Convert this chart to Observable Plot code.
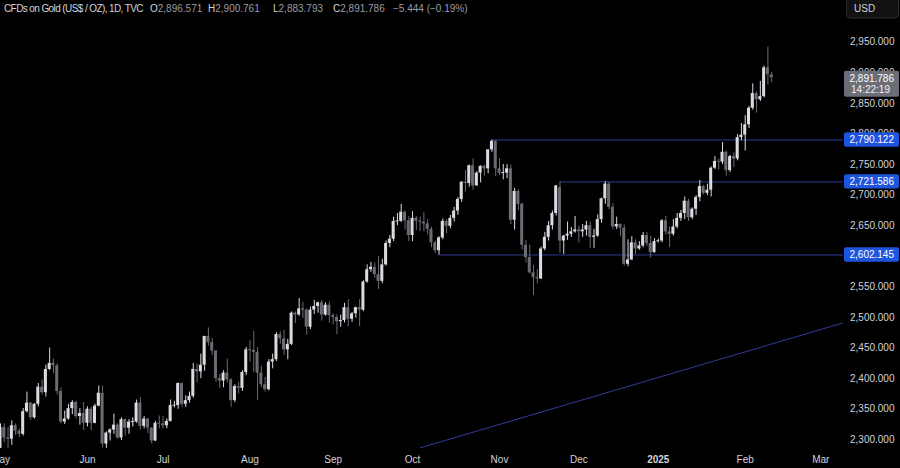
<!DOCTYPE html>
<html>
<head>
<meta charset="utf-8">
<script src="https://cdn.jsdelivr.net/npm/d3@7"></script>
<script src="https://cdn.jsdelivr.net/npm/@observablehq/plot@0.6"></script>
<style>
html,body{margin:0;padding:0;background:#000;overflow:hidden;}
#chart{width:900px;height:468px;background:#000;}
</style>
</head>
<body>
<div id="chart"></div>
<script>
// ---------- DATA ----------
const title = "CFDs on Gold (US$ / OZ), 1D, TVC";
const currency = "USD";
const countdown = "14:22:19";

const dates = [
"2024-05-01","2024-05-02","2024-05-03","2024-05-06","2024-05-07","2024-05-08","2024-05-09","2024-05-10","2024-05-13","2024-05-14","2024-05-15","2024-05-16","2024-05-17","2024-05-20","2024-05-21","2024-05-22","2024-05-23","2024-05-24","2024-05-27","2024-05-28","2024-05-29","2024-05-30","2024-05-31",
"2024-06-03","2024-06-04","2024-06-05","2024-06-06","2024-06-07","2024-06-10","2024-06-11","2024-06-12","2024-06-13","2024-06-14","2024-06-17","2024-06-18","2024-06-19","2024-06-20","2024-06-21","2024-06-24","2024-06-25","2024-06-26","2024-06-27","2024-06-28",
"2024-07-01","2024-07-02","2024-07-03","2024-07-04","2024-07-05","2024-07-08","2024-07-09","2024-07-10","2024-07-11","2024-07-12","2024-07-15","2024-07-16","2024-07-17","2024-07-18","2024-07-19","2024-07-22","2024-07-23","2024-07-24","2024-07-25","2024-07-26","2024-07-29","2024-07-30","2024-07-31",
"2024-08-01","2024-08-02","2024-08-05","2024-08-06","2024-08-07","2024-08-08","2024-08-09","2024-08-12","2024-08-13","2024-08-14","2024-08-15","2024-08-16","2024-08-19","2024-08-20","2024-08-21","2024-08-22","2024-08-23","2024-08-26","2024-08-27","2024-08-28","2024-08-29","2024-08-30",
"2024-09-02","2024-09-03","2024-09-04","2024-09-05","2024-09-06","2024-09-09","2024-09-10","2024-09-11","2024-09-12","2024-09-13","2024-09-16","2024-09-17","2024-09-18","2024-09-19","2024-09-20","2024-09-23","2024-09-24","2024-09-25","2024-09-26","2024-09-27","2024-09-30",
"2024-10-01","2024-10-02","2024-10-03","2024-10-04","2024-10-07","2024-10-08","2024-10-09","2024-10-10","2024-10-11","2024-10-14","2024-10-15","2024-10-16","2024-10-17","2024-10-18","2024-10-21","2024-10-22","2024-10-23","2024-10-24","2024-10-25","2024-10-28","2024-10-29","2024-10-30","2024-10-31",
"2024-11-01","2024-11-04","2024-11-05","2024-11-06","2024-11-07","2024-11-08","2024-11-11","2024-11-12","2024-11-13","2024-11-14","2024-11-15","2024-11-18","2024-11-19","2024-11-20","2024-11-21","2024-11-22","2024-11-25","2024-11-26","2024-11-27","2024-11-28","2024-11-29",
"2024-12-02","2024-12-03","2024-12-04","2024-12-05","2024-12-06","2024-12-09","2024-12-10","2024-12-11","2024-12-12","2024-12-13","2024-12-16","2024-12-17","2024-12-18","2024-12-19","2024-12-20","2024-12-23","2024-12-24","2024-12-26","2024-12-27","2024-12-30","2024-12-31",
"2025-01-01","2025-01-02","2025-01-03","2025-01-06","2025-01-07","2025-01-08","2025-01-09","2025-01-10","2025-01-13","2025-01-14","2025-01-15","2025-01-16","2025-01-17","2025-01-20","2025-01-21","2025-01-22","2025-01-23","2025-01-24","2025-01-27","2025-01-28","2025-01-29","2025-01-30","2025-01-31",
"2025-02-03","2025-02-04","2025-02-05","2025-02-06","2025-02-07","2025-02-10","2025-02-11","2025-02-12"
];

const open = [
2286,2320,2303,2301,2323,2314,2309,2346,2360,2336,2358,2386,2377,2415,2425,2421,2379,2329,2334,2351,2361,2338,2343,
2327,2350,2327,2355,2376,2293,2311,2316,2324,2303,2333,2319,2329,2329,2360,2322,2334,2319,2298,2327,
2326,2323,2330,2356,2356,2392,2358,2364,2371,2415,2411,2422,2469,2459,2445,2400,2396,2409,2398,2364,2387,2384,2410,
2447,2446,2443,2409,2390,2382,2427,2431,2472,2465,2447,2456,2507,2504,2514,2512,2484,2512,2518,2524,2504,2520,
2503,2500,2493,2495,2516,2497,2506,2516,2512,2558,2578,2582,2570,2559,2586,2621,2628,2657,2657,2672,2658,
2634,2662,2657,2656,2653,2644,2622,2609,2630,2657,2649,2662,2674,2693,2721,2719,2748,2715,2736,2747,2743,2774,2788,
2743,2736,2736,2743,2659,2706,2685,2618,2598,2573,2565,2563,2612,2631,2650,2670,2712,2625,2633,2636,2640,
2643,2640,2643,2650,2631,2633,2660,2694,2718,2680,2648,2652,2646,2587,2594,2622,2612,2617,2634,2621,2606,
2624,2625,2658,2640,2636,2648,2662,2670,2690,2663,2677,2696,2714,2703,2708,2744,2755,2754,2770,2740,2763,2759,2794,
2798,2815,2842,2866,2856,2861,2908,2896.571
];
const high = [
2326,2326,2320,2331,2326,2318,2351,2378,2361,2359,2392,2398,2422,2450,2432,2424,2385,2347,2358,2364,2363,2351,2361,
2354,2353,2358,2388,2388,2313,2318,2342,2326,2336,2334,2333,2336,2365,2369,2338,2335,2320,2330,2339,
2338,2334,2365,2363,2393,2393,2372,2378,2425,2424,2440,2469,2483,2466,2446,2407,2413,2432,2400,2390,2394,2413,2451,
2462,2477,2451,2420,2402,2431,2440,2475,2477,2479,2464,2509,2509,2531,2525,2514,2517,2528,2525,2528,2524,2525,
2506,2504,2504,2523,2529,2508,2517,2529,2560,2586,2590,2589,2600,2595,2625,2634,2664,2670,2685,2674,2665,
2673,2665,2664,2671,2660,2648,2625,2632,2661,2660,2667,2680,2696,2722,2740,2749,2759,2738,2748,2749,2774,2790.1,2789,
2760,2750,2750,2749,2711,2709,2687,2626,2618,2585,2578,2615,2639,2657,2674,2716,2721.6,2634,2656,2647,2665,
2649,2652,2657,2656,2644,2668,2695,2722,2721,2686,2664,2653,2651,2627,2632,2627,2624,2639,2639,2633,2629,
2628,2660,2665,2648,2660,2670,2675,2697,2693,2679,2699,2724,2716,2718,2746,2763,2759,2786,2772,2765,2769,2799,2817,
2830,2845,2882,2869,2886,2911,2942,2900.761
];
const low = [
2285,2295,2277,2291,2307,2303,2306,2344,2332,2334,2354,2373,2370,2413,2408,2373,2326,2325,2332,2341,2334,2324,2315,
2321,2315,2326,2354,2287,2286,2298,2309,2301,2299,2306,2309,2321,2327,2316,2318,2310,2293,2297,2318,
2318,2318,2329,2352,2350,2353,2353,2360,2368,2393,2400,2412,2453,2438,2394,2384,2385,2393,2353,2361,2375,2379,2405,
2427,2410,2364,2385,2378,2380,2416,2428,2456,2438,2431,2454,2490,2502,2498,2471,2480,2505,2507,2494,2502,2491,
2488,2472,2484,2491,2485,2492,2499,2485,2510,2556,2574,2564,2546,2555,2584,2614,2624,2650,2655,2643,2624,
2624,2642,2640,2640,2635,2614,2605,2602.1,2627,2637,2645,2656,2667,2688,2705,2713,2708,2715,2720,2731,2735,2770,2730,
2732,2725,2727,2652,2643,2675,2610,2589,2571,2536,2555,2562,2609,2625,2643,2666,2605,2603,2626,2631,2638,
2622,2631,2633,2613,2613,2631,2654,2685,2676,2643,2644,2632,2584,2583,2593,2603,2610,2614,2616,2597,2605,
2622,2622,2635,2614,2633,2645,2657,2660,2657,2660,2667,2689,2700,2699,2697,2742,2741,2750,2731,2737,2745,2756,2789,
2772,2809,2839,2834,2853,2859,2880,2883.793
];
const close = [
2320,2303,2301,2323,2314,2309,2346,2360,2336,2358,2386,2377,2415,2425,2421,2379,2329,2334,2351,2361,2338,2343,2327,
2350,2327,2355,2376,2293,2311,2316,2324,2303,2333,2319,2329,2329,2360,2322,2334,2319,2298,2327,2326,
2323,2330,2356,2356,2392,2358,2364,2371,2415,2411,2422,2469,2459,2445,2400,2396,2409,2398,2364,2387,2384,2410,2447,
2446,2443,2409,2390,2382,2427,2431,2472,2465,2447,2456,2507,2504,2514,2512,2484,2512,2518,2524,2504,2520,2503,
2500,2493,2495,2516,2497,2506,2516,2512,2558,2578,2582,2570,2559,2586,2621,2628,2657,2657,2672,2658,2634,
2662,2657,2656,2653,2644,2622,2609,2630,2657,2649,2662,2674,2693,2721,2719,2748,2715,2736,2747,2743,2774,2788,2743,
2736,2736,2743,2659,2706,2685,2618,2598,2573,2565,2563,2612,2631,2650,2670,2715,2625,2633,2636,2640,2643,
2640,2643,2650,2631,2633,2660,2694,2718,2680,2648,2652,2646,2587,2594,2622,2612,2617,2634,2621,2606,2624,
2625,2658,2640,2636,2648,2662,2670,2690,2663,2677,2696,2714,2703,2708,2744,2755,2754,2770,2740,2763,2759,2794,2798,
2815,2842,2866,2856,2861,2908,2897,2891.786
];

// horizontal levels (price, anchor date of the ray)
const levelPrices = [2790.122, 2721.586, 2602.145];
const levelStartDates = ["2024-10-30", "2024-11-25", "2024-10-10"];

// trend line anchor points (bar position, price)
const trendBars = [111.1, 223];
const trendPrices = [2287, 2491.3];

// axis ticks
const yTicks = [2300,2350,2400,2450,2500,2550,2600,2650,2700,2750,2800,2850,2900,2950];
const monthTickDates = ["2024-05-01","2024-06-03","2024-07-01","2024-08-01","2024-09-02","2024-10-01","2024-11-01","2024-12-02","2025-01-01","2025-02-03","2025-03-03"];
const monthTickLabels = ["May","Jun","Jul","Aug","Sep","Oct","Nov","Dec","2025","Feb","Mar"];

// header values
const lastOpen = 2896.571, lastHigh = 2900.761, lastLow = 2883.793, lastClose = 2891.786;
const changeText = "\u22125.444 (\u22120.19%)";

// ---------- CHART ----------
const UP = "#d9dbe0", DN = "#6a6c74";
const LEVEL = "#2f3b94", TREND = "#2f3a98", LABELBG = "#1f55de";
const TEXT = "#d1d4dc", DIM = "#9a9ca4";
const FONT = "'Liberation Sans', Arial, sans-serif";
const X_MAX = 223;
const fmt = d3.format(",.3f");

function barIndex(d) {
  const k = dates.indexOf(d);
  if (k >= 0) return k;
  let n = dates.length - 1;
  let t = new Date(dates[n] + "T00:00:00Z");
  const end = new Date(d + "T00:00:00Z");
  while (t < end) {
    t = new Date(t.getTime() + 864e5);
    const wd = t.getUTCDay();
    if (wd !== 0 && wd !== 6) n++;
  }
  return n;
}

const bars = dates.map((d, i) => {
  const o = open[i], c = close[i];
  let lo = Math.min(o, c), hi = Math.max(o, c);
  if (hi - lo < 1.5) { const m = (hi + lo) / 2; lo = m - 0.8; hi = m + 0.8; }
  return {i, h: high[i], l: low[i], lo, hi, col: c >= o ? UP : DN};
});
const monthIdx = monthTickDates.map(barIndex);
const trend = trendBars.map((b, k) => ({b, p: trendPrices[k]}));

const chart = Plot.plot({
  width: 900, height: 468,
  marginLeft: 0, marginRight: 57, marginTop: 0, marginBottom: 20,
  style: {background: "#000", color: TEXT, fontFamily: FONT, fontSize: "10px"},
  x: {type: "linear", domain: [0, X_MAX], range: [0, 843], axis: null},
  y: {type: "linear", domain: [2300, 2950], range: [439.3, 41.7], axis: null},
  color: {type: "identity"},
  marks: [
    Plot.ruleY(levelPrices, {y: d => d, x1: (d, k) => barIndex(levelStartDates[k]), x2: X_MAX, stroke: LEVEL, strokeWidth: 1, clip: true}),
    Plot.line(trend, {x: "b", y: "p", stroke: TREND, strokeWidth: 1, clip: true}),
    Plot.ruleX(bars, {x: "i", y1: "l", y2: "h", stroke: "col", strokeWidth: 1, clip: true}),
    Plot.rect(bars, {x1: d => d.i - 0.4, x2: d => d.i + 0.4, y1: "lo", y2: "hi", fill: "col", clip: true}),
    Plot.axisX({anchor: "bottom", ticks: monthIdx, tickFormat: d => monthTickLabels[monthIdx.indexOf(d)], tickSize: 0, tickPadding: 7, fill: TEXT}),
    Plot.axisY({anchor: "right", ticks: yTicks, tickFormat: fmt, tickSize: 0, tickPadding: 51, textAnchor: "end", fill: TEXT})
  ]
});
document.getElementById("chart").appendChild(chart);

// ---------- OVERLAYS (price labels, header) ----------
const svg = d3.select(chart);
svg.selectAll("text").filter(function(){ return this.textContent === "2025"; }).attr("font-weight", "bold");
const ys = chart.scale("y");
const g = svg.append("g").attr("font-family", FONT).attr("font-size", 10).attr("text-anchor", "start");

levelPrices.forEach(v => {
  const y = ys.apply(v);
  g.append("rect").attr("x", 844).attr("y", y - 7.2).attr("width", 55).attr("height", 14.4).attr("rx", 2).attr("fill", LABELBG);
  g.append("text").attr("x", 894).attr("y", y).attr("dy", "0.35em").attr("text-anchor", "end").attr("fill", "#ffffff").text(fmt(v));
});

{
  const y = ys.apply(lastClose);
  g.append("rect").attr("x", 844).attr("y", y - 6.5).attr("width", 55).attr("height", 26).attr("rx", 2).attr("fill", "#6b6e76");
  g.append("text").attr("x", 894).attr("y", y + 1.5).attr("dy", "0.35em").attr("text-anchor", "end").attr("fill", "#ffffff").text(fmt(lastClose));
  g.append("text").attr("x", 890).attr("y", y + 12).attr("dy", "0.35em").attr("text-anchor", "end").attr("fill", "#f0f0f0").text(countdown);
}

// currency box
g.append("rect").attr("x", 846.5).attr("y", -3).attr("width", 52).attr("height", 21).attr("rx", 4).attr("fill", "#121212").attr("stroke", "#2c2c2e");
g.append("text").attr("x", 854).attr("y", 8).attr("dy", "0.35em").attr("fill", TEXT).text(currency);

// header line
const hy = 8;
g.append("text").attr("x", 4).attr("y", hy).attr("dy", "0.35em").attr("fill", TEXT).attr("letter-spacing", "-0.6").text(title);
const parts = [["O", lastOpen, 150], ["H", lastHigh, 208], ["L", lastLow, 273], ["C", lastClose, 333]];
parts.forEach(([k, v, x]) => {
  const t = g.append("text").attr("x", x).attr("y", hy).attr("dy", "0.35em");
  t.append("tspan").attr("fill", TEXT).text(k);
  t.append("tspan").attr("fill", DIM).text(fmt(v));
});
g.append("text").attr("x", 393).attr("y", hy).attr("dy", "0.35em").attr("fill", DIM).text(changeText);
</script>
</body>
</html>
